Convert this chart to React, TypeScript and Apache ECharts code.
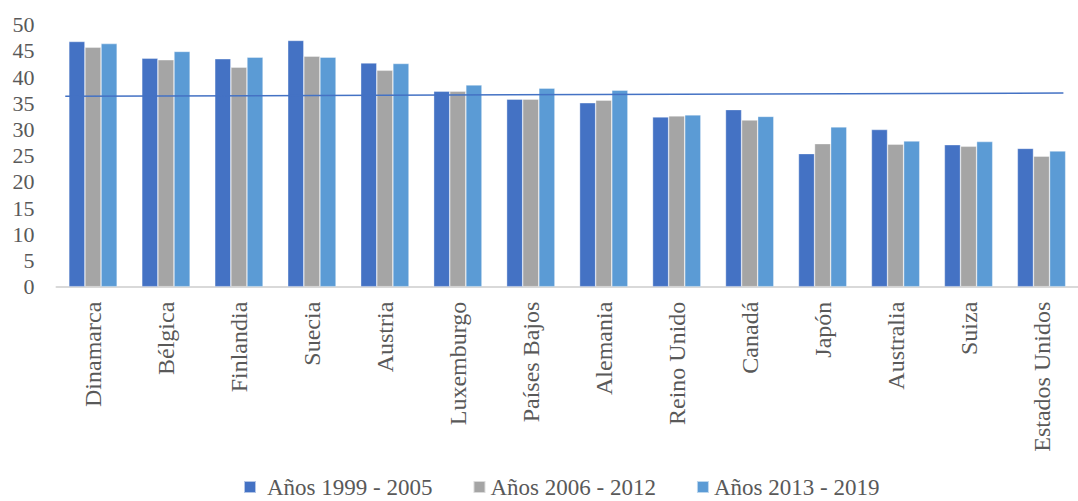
import React, { useEffect, useRef } from "react";
import * as echarts from "echarts";

const categories = [
  "Dinamarca", "Bélgica", "Finlandia", "Suecia", "Austria", "Luxemburgo", "Países Bajos",
  "Alemania", "Reino Unido", "Canadá", "Japón", "Australia", "Suiza", "Estados Unidos",
];
const seriesNames = ["Años 1999 - 2005", "Años 2006 - 2012", "Años 2013 - 2019"];
const s1999 = [46.8, 43.6, 43.5, 47.0, 42.7, 37.3, 35.8, 35.1, 32.4, 33.8, 25.4, 30.0, 27.1, 26.4];
const s2006 = [45.7, 43.3, 41.9, 44.0, 41.3, 37.3, 35.8, 35.6, 32.6, 31.8, 27.3, 27.2, 26.8, 24.9];
const s2013 = [46.4, 44.9, 43.8, 43.8, 42.6, 38.5, 37.9, 37.5, 32.8, 32.5, 30.5, 27.8, 27.7, 25.9];
const trendX = [0.12, 13.8];
const trendY = [36.35, 36.95];
const yTicks = { min: 0, max: 50, interval: 5 };

const colors = ["#4472C4", "#A5A5A5", "#5B9BD5"];
const FONT = "'Liberation Serif', 'Times New Roman', serif";

export default function App() {
  const ref = useRef<HTMLDivElement>(null);
  useEffect(() => {
    document.body.style.margin = "0";
    const chart = echarts.init(ref.current!, undefined, { renderer: "svg" });
    const values = [s1999, s2006, s2013];
    chart.setOption({
      animation: false,
      color: colors,
      grid: { left: 56.5, top: 24.7, width: 1036, height: 262, containLabel: false },
      legend: {
        left: 238,
        top: 470,
        itemWidth: 12,
        itemHeight: 12,
        itemGap: 40,
        icon: "rect",
        data: seriesNames.map((name, i) =>
          i === 0 ? { name, textStyle: { padding: [0, 0, 0, 6] } } : { name }
        ),
        textStyle: { fontFamily: FONT, fontSize: 23, lineHeight: 24, color: "#595959" },
      },
      xAxis: [
        {
          type: "category",
          data: categories,
          axisLine: { lineStyle: { color: "#D9D9D9", width: 2 } },
          axisTick: { show: false },
          axisLabel: { rotate: 90, margin: 15, fontFamily: FONT, fontSize: 24, color: "#595959", interval: 0 },
        },
        { type: "value", min: 0, max: 14, show: false },
      ],
      yAxis: {
        type: "value",
        min: yTicks.min,
        max: yTicks.max,
        interval: yTicks.interval,
        axisLine: { show: false },
        axisTick: { show: false },
        splitLine: { show: false },
        axisLabel: { margin: 22, fontFamily: FONT, fontSize: 22, color: "#595959" },
      },
      series: [
        ...seriesNames.map((name, i) => ({
          name,
          type: "bar",
          data: values[i],
          barGap: "0%",
          barCategoryGap: "33.8%",
          itemStyle: { borderColor: "rgba(255,255,255,0.6)", borderWidth: 0.6 },
        })),
        {
          type: "line",
          xAxisIndex: 1,
          data: trendX.map((x, i) => [x, trendY[i]]),
          symbol: "none",
          lineStyle: { color: "#4472C4", width: 1.5 },
          z: 5,
        },
      ],
    });
    return () => chart.dispose();
  }, []);
  return <div ref={ref} style={{ width: 1078, height: 501 }} />;
}
